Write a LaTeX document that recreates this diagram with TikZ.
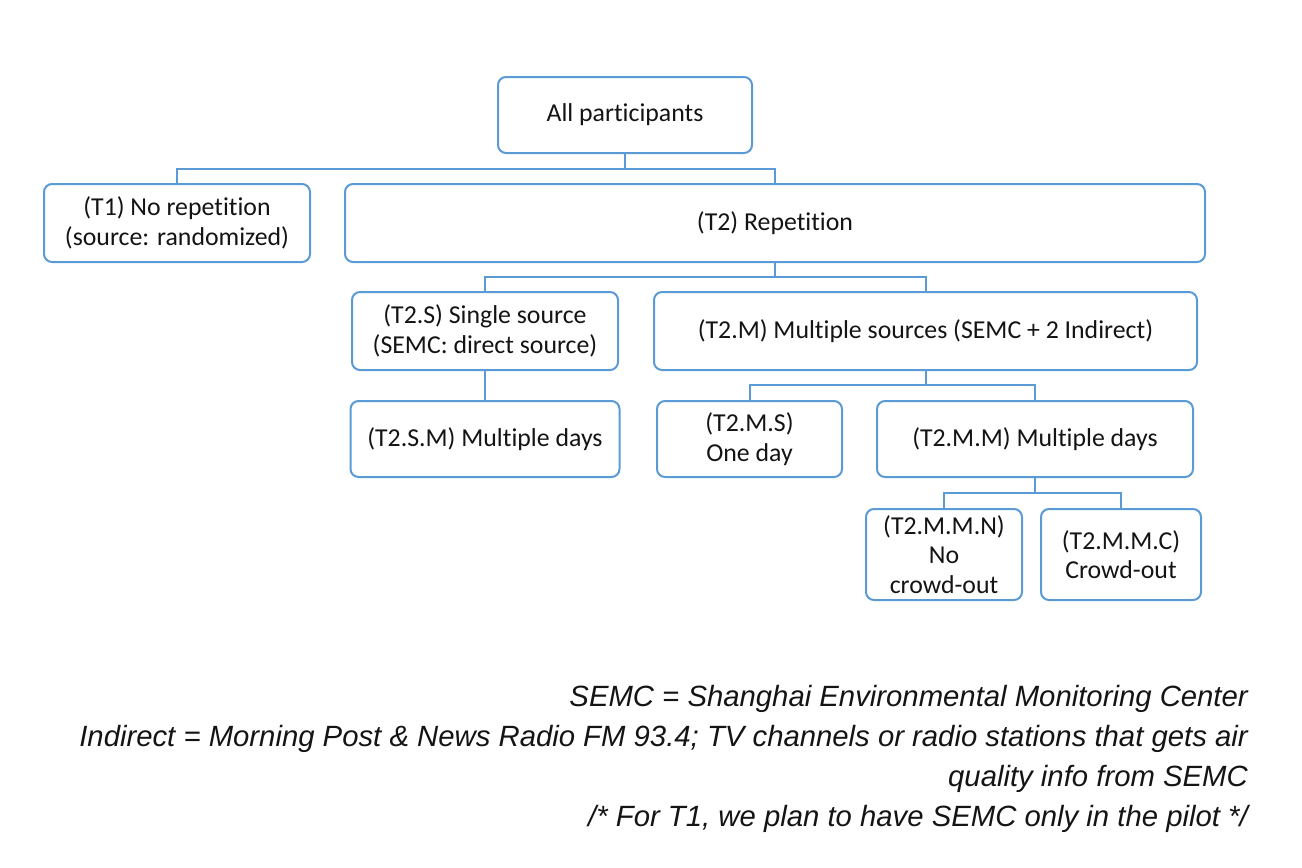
\documentclass[tikz,border=0pt]{standalone}
\usepackage{fontspec}
\setmainfont[Ligatures=NoCommon]{Carlito}
\newfontfamily\notefont{Liberation Sans}
\definecolor{boxblue}{RGB}{91,155,213}
\definecolor{txt}{RGB}{20,20,20}
\begin{document}
\begin{tikzpicture}[x=1pt,y=-1pt,
  box/.style={draw=boxblue, line width=2pt, rounded corners=8pt, fill=white,
    inner sep=0pt, align=center, text=txt, font=\fontsize{25.8}{29.5}\selectfont},
  link/.style={draw=boxblue, line width=2pt},
  note/.style={anchor=base east, inner sep=0pt, text=txt,
    font=\notefont\itshape\fontsize{29.3}{34}\selectfont}]
\useasboundingbox (0,0) rectangle (1302,868);

% tree of treatment groups
\node[box, minimum width=254pt, minimum height=76pt] (all) at (625,115) {All participants};
\node[box, minimum width=266pt, minimum height=78pt] (t1) at (177,223) {(T1) No repetition\\(source: randomized)};
\node[box, minimum width=860pt, minimum height=78pt] (t2) at (775,223) {(T2) Repetition};
\node[box, minimum width=266pt, minimum height=78pt] (t2s) at (485,331) {(T2.S) Single source\\(SEMC: direct source)};
\node[box, minimum width=543pt, minimum height=78pt] (t2m) at (925.5,331) {(T2.M) Multiple sources (SEMC + 2 Indirect)};
\node[box, minimum width=269pt, minimum height=76pt] (t2sm) at (485,439) {(T2.S.M) Multiple days};
\node[box, minimum width=185pt, minimum height=76pt] (t2ms) at (749.5,439) {(T2.M.S)\\One day};
\node[box, minimum width=316pt, minimum height=76pt] (t2mm) at (1035,439) {(T2.M.M) Multiple days};
\node[box, minimum width=156pt, minimum height=91pt] (t2mmn) at (944,554.5) {(T2.M.M.N)\\No\\crowd-out};
\node[box, minimum width=160pt, minimum height=91pt] (t2mmc) at (1121,554.5) {(T2.M.M.C)\\Crowd-out};

% branch points of the connectors
\coordinate (b1) at (625,169);
\coordinate (b2) at (775,277);
\coordinate (b3) at (925.5,385);
\coordinate (b4) at (1035,493);

\draw[link] (all.south) -- (b1);
\draw[link] (b1) -| (t1.north);
\draw[link] (b1) -| (t2.north);
\draw[link] (t2.south) -- (b2);
\draw[link] (b2) -| (t2s.north);
\draw[link] (b2) -| (t2m.north);
\draw[link] (t2s.south) -- (t2sm.north);
\draw[link] (t2m.south) -- (b3);
\draw[link] (b3) -| (t2ms.north);
\draw[link] (b3) -| (t2mm.north);
\draw[link] (t2mm.south) -- (b4);
\draw[link] (b4) -| (t2mmn.north);
\draw[link] (b4) -| (t2mmc.north);

% legend
\node[note] (n1) at (1248,706) {SEMC = Shanghai Environmental Monitoring Center};
\node[note] (n2) at (1248,746) {Indirect = Morning Post \& News Radio FM 93.4; TV channels or radio stations that gets air};
\node[note] (n3) at (1248,786) {quality info from SEMC};
\node[note] (n4) at (1248,826) {/* For T1, we plan to have SEMC only in the pilot */};
\end{tikzpicture}
\end{document}
